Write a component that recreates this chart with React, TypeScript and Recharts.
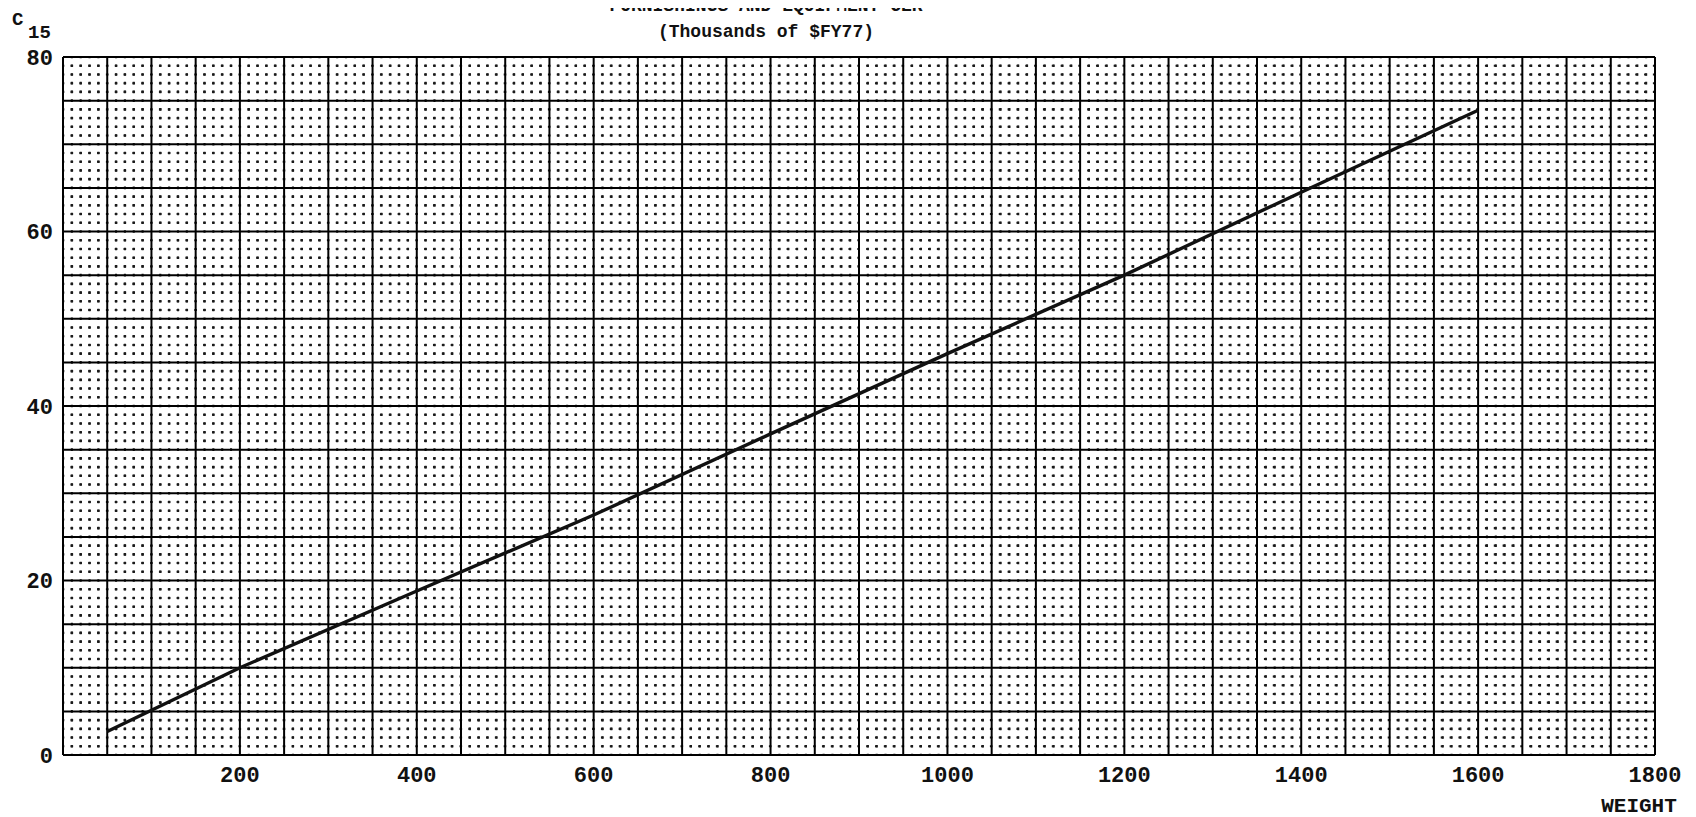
import React from "react";
import { LineChart, Line, XAxis, YAxis, ReferenceLine } from "recharts";

// Weight (x) and CER cost C15 in thousands of $FY77 (y)
const weights = [50, 200, 400, 600, 800, 1000, 1200, 1400, 1500, 1600];
const costs = [2.7, 10, 18.8, 27.5, 36.8, 46, 55, 64.5, 69.2, 73.9];

const xLabelTicks = [200, 400, 600, 800, 1000, 1200, 1400, 1600, 1800];
const yLabelTicks = [0, 20, 40, 60, 80];
const xDomain: [number, number] = [0, 1800];
const yDomain: [number, number] = [0, 80];

const range = (lo: number, hi: number, step: number) =>
  Array.from({ length: Math.round((hi - lo) / step) + 1 }, (_, i) => lo + i * step);
const xMinorTicks = range(0, 1800, 10).filter((v) => v % 50 !== 0);
const xMajorTicks = range(0, 1800, 50);
const yMinorTicks = range(0, 80, 1).filter((v) => v % 5 !== 0);
const yMajorTicks = range(0, 80, 5);

const data = weights.map((w, i) => ({ w, c: costs[i] }));

const FONT = "'Liberation Mono', 'DejaVu Sans Mono', monospace";
const tickStyle = { fontFamily: FONT, fontWeight: 700, fontSize: 22, fill: "#111" };

const W = 1680;
const H = 809;

export default function App() {
  return (
    <div style={{ position: "relative", width: W, height: H, background: "#fff" }}>
      <LineChart
        width={W}
        height={H}
        data={data}
        margin={{ top: 49, right: 33, left: 0, bottom: 0 }}
      >
        <XAxis
          dataKey="w"
          type="number"
          domain={xDomain}
          ticks={xLabelTicks}
          interval={0}
          tickLine={false}
          axisLine={false}
          tickSize={0}
          tickMargin={11}
          height={62}
          tick={tickStyle}
        />
        <YAxis
          type="number"
          domain={yDomain}
          ticks={yLabelTicks}
          interval={0}
          tickLine={false}
          axisLine={false}
          tickSize={0}
          tickMargin={10}
          width={55}
          tick={tickStyle}
        />
        {xMinorTicks.map((v) => (
          <ReferenceLine
            key={"mx" + v}
            x={v}
            stroke="#1a1a1a"
            strokeWidth={2.1}
            strokeDasharray="2.6 6.125"
            strokeDashoffset={1.3}
            ifOverflow="visible"
          />
        ))}
        {yMinorTicks.map((v) => (
          <ReferenceLine
            key={"my" + v}
            y={v}
            stroke="#1a1a1a"
            strokeWidth={2.1}
            strokeDasharray="2.6 6.24"
            strokeDashoffset={1.3}
            ifOverflow="visible"
          />
        ))}
        {xMajorTicks.map((v) => (
          <ReferenceLine key={"Mx" + v} x={v} stroke="#000" strokeWidth={2} ifOverflow="visible" />
        ))}
        {yMajorTicks.map((v) => (
          <ReferenceLine key={"My" + v} y={v} stroke="#000" strokeWidth={2} ifOverflow="visible" />
        ))}
        <Line
          dataKey="c"
          type="linear"
          stroke="#111"
          strokeWidth={3.4}
          dot={false}
          isAnimationActive={false}
        />
      </LineChart>
      <svg
        width={W}
        height={H}
        style={{ position: "absolute", left: 0, top: 0, pointerEvents: "none", overflow: "visible" }}
      >
        <text x={758} y={3} textAnchor="middle" fontFamily={FONT} fontWeight={700} fontSize={18} fill="#111">
          FURNISHINGS AND EQUIPMENT CER
        </text>
        <text x={758} y={29} textAnchor="middle" fontFamily={FONT} fontWeight={700} fontSize={18} fill="#111">
          (Thousands of $FY77)
        </text>
        <text x={4} y={17} fontFamily={FONT} fontWeight={700} fontSize={19} fill="#111">
          C
        </text>
        <text x={20} y={30} fontFamily={FONT} fontWeight={700} fontSize={19} fill="#111">
          15
        </text>
        <text x={1631} y={804} textAnchor="middle" fontFamily={FONT} fontWeight={700} fontSize={21} fill="#111">
          WEIGHT
        </text>
      </svg>
    </div>
  );
}
